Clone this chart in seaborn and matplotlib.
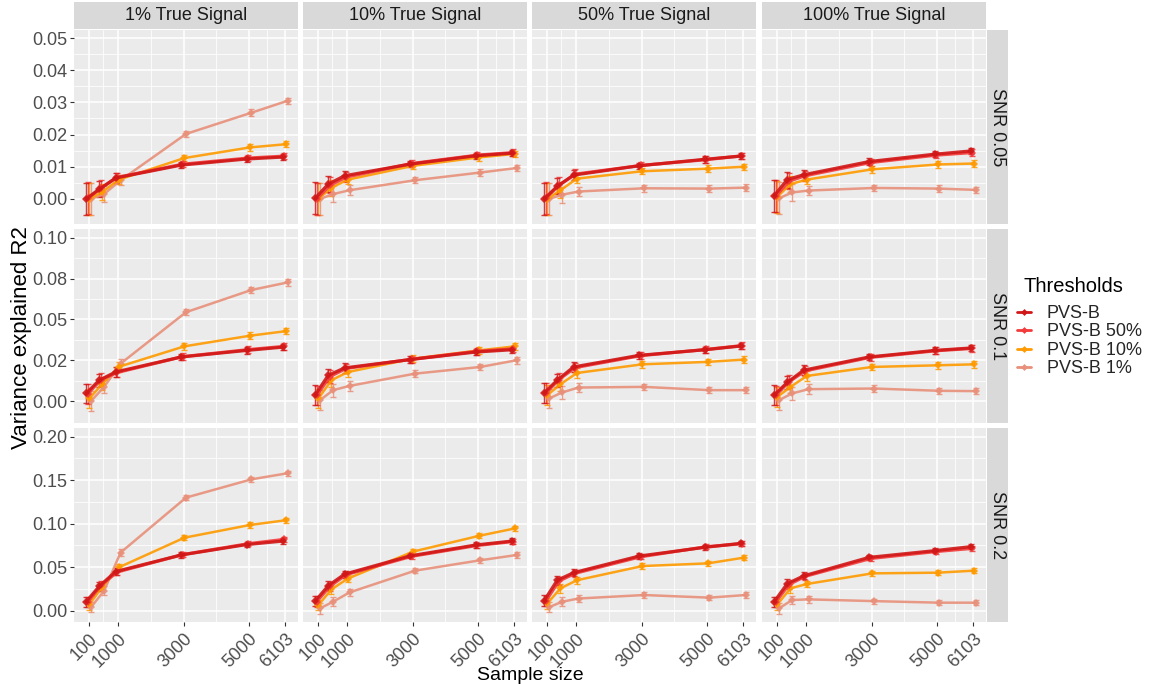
import matplotlib
matplotlib.use("Agg")
import matplotlib.pyplot as plt
import numpy as np
import pandas as pd
import seaborn as sns
from matplotlib.lines import Line2D

# ---------------------------------------------------------------- data
sample_sizes = [100, 500, 1000, 3000, 5000, 6103]
x_tick_values = [100, 1000, 3000, 5000, 6103]
x_tick_labels = ["100", "1000", "3000", "5000", "6103"]

signal_labels = ["1% True Signal", "10% True Signal", "50% True Signal", "100% True Signal"]
snr_labels = ["SNR 0.05", "SNR 0.1", "SNR 0.2"]
thresholds = ["PVS-B", "PVS-B 50%", "PVS-B 10%", "PVS-B 1%"]

# y axis breaks and their printed labels for each SNR row
y_ticks_snr005 = [0.0, 0.01, 0.02, 0.03, 0.04, 0.05]
y_labels_snr005 = ["0.00", "0.01", "0.02", "0.03", "0.04", "0.05"]
y_ticks_snr01 = [0.0, 0.025, 0.05, 0.075, 0.10]
y_labels_snr01 = ["0.00", "0.02", "0.05", "0.08", "0.10"]
y_ticks_snr02 = [0.0, 0.05, 0.10, 0.15, 0.20]
y_labels_snr02 = ["0.00", "0.05", "0.10", "0.15", "0.20"]

# mean R2 per threshold (rows: PVS-B, 50%, 10%, 1%) and sample size
snr005_sig1 = [[0.0000, 0.0030, 0.0065, 0.0105, 0.0124, 0.0130],
               [0.0002, 0.0033, 0.0067, 0.0108, 0.0127, 0.0133],
               [0.0000, 0.0022, 0.0060, 0.0127, 0.0160, 0.0170],
               [0.0000, 0.0015, 0.0058, 0.0202, 0.0268, 0.0305]]
snr005_sig10 = [[0.0002, 0.0046, 0.0072, 0.0108, 0.0134, 0.0142],
                [0.0000, 0.0042, 0.0068, 0.0110, 0.0136, 0.0144],
                [0.0000, 0.0035, 0.0060, 0.0103, 0.0129, 0.0140],
                [0.0000, 0.0015, 0.0027, 0.0058, 0.0082, 0.0096]]
snr005_sig50 = [[0.0000, 0.0039, 0.0074, 0.0103, 0.0123, 0.0133],
                [0.0002, 0.0042, 0.0077, 0.0104, 0.0122, 0.0134],
                [0.0000, 0.0027, 0.0063, 0.0086, 0.0094, 0.0100],
                [0.0000, 0.0013, 0.0023, 0.0033, 0.0032, 0.0035]]
snr005_sig100 = [[0.0010, 0.0060, 0.0075, 0.0116, 0.0139, 0.0149],
                 [0.0008, 0.0055, 0.0072, 0.0113, 0.0136, 0.0144],
                 [0.0007, 0.0046, 0.0060, 0.0092, 0.0107, 0.0110],
                 [0.0002, 0.0020, 0.0026, 0.0034, 0.0032, 0.0028]]

snr01_sig1 = [[0.0047, 0.0128, 0.0178, 0.0270, 0.0310, 0.0330],
              [0.0045, 0.0130, 0.0175, 0.0272, 0.0315, 0.0335],
              [0.0016, 0.0107, 0.0210, 0.0335, 0.0400, 0.0428],
              [0.0000, 0.0087, 0.0229, 0.0544, 0.0680, 0.0726]]
snr01_sig10 = [[0.0037, 0.0158, 0.0203, 0.0254, 0.0300, 0.0314],
               [0.0035, 0.0150, 0.0200, 0.0256, 0.0305, 0.0320],
               [0.0016, 0.0128, 0.0178, 0.0260, 0.0310, 0.0335],
               [0.0006, 0.0067, 0.0093, 0.0168, 0.0209, 0.0250]]
snr01_sig50 = [[0.0050, 0.0128, 0.0209, 0.0280, 0.0314, 0.0337],
               [0.0048, 0.0132, 0.0205, 0.0278, 0.0316, 0.0340],
               [0.0037, 0.0103, 0.0172, 0.0225, 0.0240, 0.0254],
               [0.0016, 0.0053, 0.0083, 0.0087, 0.0067, 0.0067]]
snr01_sig100 = [[0.0037, 0.0114, 0.0189, 0.0270, 0.0310, 0.0325],
                [0.0035, 0.0118, 0.0185, 0.0268, 0.0308, 0.0322],
                [0.0026, 0.0087, 0.0154, 0.0209, 0.0219, 0.0225],
                [0.0006, 0.0047, 0.0073, 0.0077, 0.0063, 0.0061]]

snr02_sig1 = [[0.0103, 0.0280, 0.0450, 0.0640, 0.0760, 0.0800],
              [0.0100, 0.0290, 0.0445, 0.0645, 0.0770, 0.0820],
              [0.0073, 0.0276, 0.0498, 0.0839, 0.0985, 0.1040],
              [0.0040, 0.0230, 0.0667, 0.1300, 0.1510, 0.1580]]
snr02_sig10 = [[0.0110, 0.0287, 0.0420, 0.0630, 0.0755, 0.0800],
               [0.0105, 0.0280, 0.0415, 0.0625, 0.0750, 0.0795],
               [0.0065, 0.0245, 0.0370, 0.0680, 0.0860, 0.0946],
               [0.0027, 0.0103, 0.0210, 0.0460, 0.0580, 0.0640]]
snr02_sig50 = [[0.0115, 0.0350, 0.0437, 0.0628, 0.0728, 0.0774],
               [0.0110, 0.0340, 0.0430, 0.0620, 0.0735, 0.0770],
               [0.0084, 0.0257, 0.0350, 0.0513, 0.0544, 0.0610],
               [0.0040, 0.0103, 0.0140, 0.0180, 0.0150, 0.0180]]
snr02_sig100 = [[0.0103, 0.0310, 0.0400, 0.0613, 0.0690, 0.0736],
                [0.0100, 0.0300, 0.0395, 0.0600, 0.0680, 0.0716],
                [0.0073, 0.0257, 0.0307, 0.0429, 0.0437, 0.0460],
                [0.0027, 0.0123, 0.0130, 0.0110, 0.0092, 0.0092]]

# half-width of the error bars per SNR level and sample size
err_snr005 = [0.0050, 0.0025, 0.0015, 0.0010, 0.0010, 0.0010]
err_snr01 = [0.0060, 0.0040, 0.0030, 0.0020, 0.0020, 0.0020]
err_snr02 = [0.0060, 0.0050, 0.0040, 0.0030, 0.0030, 0.0030]

panels = [[snr005_sig1, snr005_sig10, snr005_sig50, snr005_sig100],
          [snr01_sig1, snr01_sig10, snr01_sig50, snr01_sig100],
          [snr02_sig1, snr02_sig10, snr02_sig50, snr02_sig100]]
errors = [err_snr005, err_snr01, err_snr02]
y_ticks = [y_ticks_snr005, y_ticks_snr01, y_ticks_snr02]
y_tick_text = [y_labels_snr005, y_labels_snr01, y_labels_snr02]
y_limits = [(-0.0078, 0.0525), (-0.0134, 0.1053), (-0.013, 0.210)]

# long-form table
records = []
for r, snr in enumerate(snr_labels):
    for c, sig in enumerate(signal_labels):
        for t, thr in enumerate(thresholds):
            for k, n in enumerate(sample_sizes):
                records.append(dict(snr=snr, signal=sig, threshold=thr, n=n,
                                    r2=panels[r][c][t][k], err=errors[r][k]))
df = pd.DataFrame(records)

# ---------------------------------------------------------------- style
colors = {"PVS-B": "#D01818", "PVS-B 50%": "#F43A3A",
          "PVS-B 10%": "#FF9A00", "PVS-B 1%": "#E8907A"}
widths = {"PVS-B": 2.3, "PVS-B 50%": 2.3, "PVS-B 10%": 1.8, "PVS-B 1%": 1.8}
dodge = {"PVS-B": -75, "PVS-B 50%": -25, "PVS-B 10%": 25, "PVS-B 1%": 75}
df["x"] = df["n"] + df["threshold"].map(dodge)

sns.set_theme(style="darkgrid")
plt.rcParams["font.family"] = ["Liberation Sans", "DejaVu Sans"]

W, H = 1151, 684
fig = plt.figure(figsize=(W / 100, H / 100), dpi=100)
fig.patch.set_facecolor("white")


def px_axes(x0, y0, w, h, **kw):
    return fig.add_axes([x0 / W, 1 - (y0 + h) / H, w / W, h / H], **kw)


col_left = [74, 303, 532, 762]
col_w = 224
row_top = [30, 229, 428]
row_h = 194
x_lim = (-345, 6495)
x_minor = [550, 2000, 4000, 5551.5]

tick_col = "#4D4D4D"
for r, snr in enumerate(snr_labels):
    for c, sig in enumerate(signal_labels):
        ax = px_axes(col_left[c], row_top[r], col_w, row_h)
        ax.set_facecolor("#EBEBEB")
        sub = df[(df.snr == snr) & (df.signal == sig)]
        for thr in thresholds[::-1]:
            s = sub[sub.threshold == thr]
            ax.errorbar(s["x"], s["r2"], yerr=s["err"], fmt="none",
                        ecolor=colors[thr], elinewidth=1.0, capsize=2.2,
                        capthick=1.0, alpha=0.85, zorder=3)
            sns.lineplot(data=s, x="x", y="r2", color=colors[thr],
                         linewidth=widths[thr], marker="D", markersize=4,
                         markeredgewidth=0, alpha=0.9, ax=ax, zorder=4,
                         errorbar=None, sort=False)
        ax.set_xlim(*x_lim)
        ax.set_ylim(*y_limits[r])
        ax.set_xticks(x_tick_values)
        ax.set_xticks(x_minor, minor=True)
        yt = y_ticks[r]
        ax.set_yticks(yt)
        ax.set_yticks([(a + b) / 2 for a, b in zip(yt[:-1], yt[1:])], minor=True)
        ax.grid(which="major", color="white", linewidth=1.1)
        ax.grid(which="minor", color="white", linewidth=0.55)
        for sp in ax.spines.values():
            sp.set_visible(False)
        ax.set_xlabel("")
        ax.set_ylabel("")
        ax.tick_params(which="minor", length=0)
        if c == 0:
            ax.set_yticklabels(y_tick_text[r], fontsize=13, color=tick_col)
            ax.tick_params(axis="y", which="major", length=3, width=0.8,
                           color="#333333", pad=2, left=True)
        else:
            ax.set_yticklabels([])
            ax.tick_params(axis="y", which="major", length=0)
        if r == 2:
            ax.set_xticklabels(x_tick_labels, fontsize=13, color=tick_col,
                               rotation=45, ha="right", va="top",
                               rotation_mode="anchor")
            ax.tick_params(axis="x", which="major", length=3, width=0.8,
                           color="#333333", pad=3, bottom=True)
        else:
            ax.set_xticklabels([])
            ax.tick_params(axis="x", which="major", length=0)

# column strips
for c, sig in enumerate(signal_labels):
    sax = px_axes(col_left[c], 2, col_w, 27)
    sax.set_facecolor("#D9D9D9")
    sax.set_xticks([]); sax.set_yticks([])
    for sp in sax.spines.values():
        sp.set_visible(False)
    sax.text(0.5, 0.5, sig, ha="center", va="center", fontsize=13,
             color="#1A1A1A", transform=sax.transAxes)

# row strips
for r, snr in enumerate(snr_labels):
    sax = px_axes(987, row_top[r], 21, row_h)
    sax.set_facecolor("#D9D9D9")
    sax.set_xticks([]); sax.set_yticks([])
    for sp in sax.spines.values():
        sp.set_visible(False)
    sax.text(0.5, 0.5, snr, ha="center", va="center", fontsize=13,
             color="#1A1A1A", rotation=-90, transform=sax.transAxes)

# axis titles
fig.text((74 + 986) / 2 / W, 1 - 675 / H, "Sample size", ha="center",
         va="center", fontsize=14, color="black")
fig.text(22 / W, 1 - 338 / H, "Variance explained R2", ha="center",
         va="center", rotation=90, fontsize=16, color="black")

# legend
fig.text(1023 / W, 1 - 286 / H, "Thresholds", ha="left", va="center",
         fontsize=14.5, color="black")
handles = [Line2D([0], [0], color=colors[t], lw=2, marker="D", markersize=3.5,
                  markeredgewidth=0) for t in thresholds]
leg = fig.legend(handles, thresholds, loc="upper left",
                 bbox_to_anchor=(1017 / W, 1 - 305 / H), frameon=False,
                 fontsize=13, handlelength=0.75, handletextpad=0.9,
                 labelspacing=0.08, borderaxespad=0, borderpad=0)

fig.savefig("out.png", dpi=100)
